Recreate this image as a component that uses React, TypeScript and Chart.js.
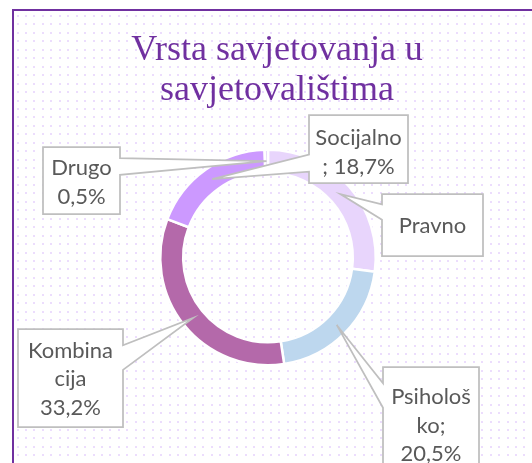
import React, { useEffect, useRef } from "react";
import { Chart, registerables } from "chart.js";

Chart.register(...registerables);

// ---- data ----
const categories = ["Pravno", "Psihološko", "Kombinacija", "Socijalno", "Drugo"];
const shares = [27.1, 20.5, 33.2, 18.7, 0.5];
const sliceColors = ["#E8D5FC", "#BDD7EE", "#B469AA", "#CC99FF", "#E2D0F7"];
// label wrapping as in the picture; "{v}" is replaced with the share
const labelLines: string[][] = [
  ["Pravno"],
  ["Psihološ", "ko;", "{v}"],
  ["Kombina", "cija", "{v}"],
  ["Socijalno", "; {v}"],
  ["Drugo", "{v}"],
];
const titleLines = ["Vrsta savjetovanja u", "savjetovalištima"];

// ---- layout (positions of the callout boxes) ----
const W = 532;
const H = 463;
const boxes = [
  { x0: 382, y0: 194, x1: 483, y1: 256, base: 233 },
  { x0: 383, y0: 367, x1: 479, y1: 465, base: 404 },
  { x0: 18, y0: 329, x1: 123, y1: 427, base: 357.5 },
  { x0: 309, y0: 115, x1: 408, y1: 183, base: 145 },
  { x0: 43, y0: 147, x1: 120, y1: 214, base: 175 },
];
const LINE_H = 28.5;
const LABEL_FONT = "22px Lato, 'Open Sans', sans-serif";
const TITLE_FONT = "36px 'Liberation Serif', 'Times New Roman', serif";
const PURPLE = "#7030A0";

const fmt = (v: number) => v.toFixed(1).replace(".", ",") + "%";

function calloutPath(ctx: CanvasRenderingContext2D, b: any, tx: number, ty: number) {
  const w = b.x1 - b.x0;
  const h = b.y1 - b.y0;
  const cx = (b.x0 + b.x1) / 2;
  const cy = (b.y0 + b.y1) / 2;
  const dxPos = tx - cx;
  const dyPos = ty - cy;
  const horiz = Math.abs(dxPos * h) > Math.abs(dyPos * w);
  const xg1 = dxPos > 0 ? 7 : 2, xg2 = dxPos > 0 ? 10 : 5;
  const yg1 = dyPos > 0 ? 7 : 2, yg2 = dyPos > 0 ? 10 : 5;
  const x1 = b.x0 + (w * xg1) / 12, x2 = b.x0 + (w * xg2) / 12;
  const y1 = b.y0 + (h * yg1) / 12, y2 = b.y0 + (h * yg2) / 12;
  ctx.beginPath();
  ctx.moveTo(b.x0, b.y0);
  if (!horiz && dyPos < 0) { ctx.lineTo(x1, b.y0); ctx.lineTo(tx, ty); ctx.lineTo(x2, b.y0); }
  ctx.lineTo(b.x1, b.y0);
  if (horiz && dxPos > 0) { ctx.lineTo(b.x1, y1); ctx.lineTo(tx, ty); ctx.lineTo(b.x1, y2); }
  ctx.lineTo(b.x1, b.y1);
  if (!horiz && dyPos > 0) { ctx.lineTo(x2, b.y1); ctx.lineTo(tx, ty); ctx.lineTo(x1, b.y1); }
  ctx.lineTo(b.x0, b.y1);
  if (horiz && dxPos < 0) { ctx.lineTo(b.x0, y2); ctx.lineTo(tx, ty); ctx.lineTo(b.x0, y1); }
  ctx.closePath();
}

const backgroundPlugin = {
  id: "bgPlugin",
  beforeDraw(chart: any) {
    const ctx: CanvasRenderingContext2D = chart.ctx;
    ctx.save();
    ctx.fillStyle = "#ffffff";
    ctx.fillRect(0, 0, W, H);
    // dotted pattern
    ctx.fillStyle = "#ECDDFD";
    const step = 8.45;
    for (let y = 15; y < H; y += step) {
      for (let x = 16.5; x < W; x += step) {
        ctx.fillRect(Math.round(x), Math.round(y), 2, 2);
      }
    }
    // border
    ctx.fillStyle = PURPLE;
    ctx.fillRect(12, 9, W, 2);
    ctx.fillRect(12, 9, 2, H);
    // title
    ctx.fillStyle = PURPLE;
    ctx.font = TITLE_FONT;
    ctx.textAlign = "center";
    ctx.textBaseline = "alphabetic";
    ctx.fillText(titleLines[0], 277, 60);
    ctx.fillText(titleLines[1], 277, 100);
    ctx.restore();
  },
};

const calloutPlugin = {
  id: "calloutPlugin",
  afterDatasetsDraw(chart: any) {
    const ctx: CanvasRenderingContext2D = chart.ctx;
    const meta = chart.getDatasetMeta(0);
    ctx.save();
    meta.data.forEach((arc: any, i: number) => {
      const p = arc.getCenterPoint();
      const b = boxes[i];
      calloutPath(ctx, b, p.x, p.y);
      ctx.fillStyle = "#ffffff";
      ctx.fill();
      ctx.lineWidth = 1.75;
      ctx.strokeStyle = "#BFBFBF";
      ctx.lineJoin = "miter";
      ctx.stroke();
      ctx.fillStyle = "#595959";
      ctx.font = LABEL_FONT;
      ctx.textAlign = "center";
      ctx.textBaseline = "alphabetic";
      const cx = (b.x0 + b.x1) / 2;
      labelLines[i].forEach((t, k) => {
        ctx.fillText(t.replace("{v}", fmt(shares[i])), cx, b.base + k * LINE_H);
      });
    });
    ctx.restore();
  },
};

export default function App() {
  const ref = useRef<HTMLCanvasElement | null>(null);
  useEffect(() => {
    if (!ref.current) return;
    const chart = new Chart(ref.current, {
      type: "doughnut",
      data: {
        labels: categories,
        datasets: [
          {
            data: shares,
            backgroundColor: sliceColors,
            borderColor: "#ffffff",
            borderWidth: 2.5,
          },
        ],
      },
      options: {
        responsive: false,
        animation: false,
        events: [],
        cutout: "78.7%",
        layout: { padding: { left: 159, right: 155, top: 148.5, bottom: 96.5 } },
        plugins: {
          legend: { display: false },
          title: { display: false },
          tooltip: { enabled: false },
        },
      },
      plugins: [backgroundPlugin, calloutPlugin],
    });
    return () => chart.destroy();
  }, []);
  return (
    <div style={{ position: "fixed", left: 0, top: 0, width: W, height: H }}>
      <canvas ref={ref} width={W} height={H} style={{ display: "block" }} />
    </div>
  );
}
